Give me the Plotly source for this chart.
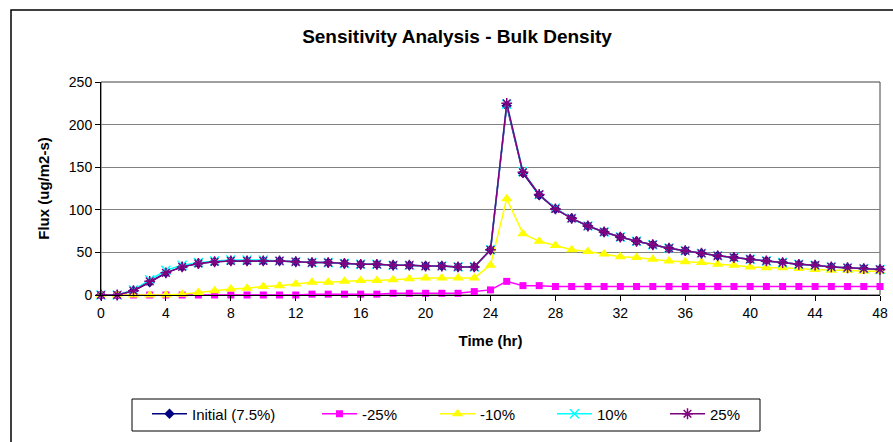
import plotly.graph_objects as go

# 时间（小时）
hours = list(range(0, 49))

# 各情景通量 (ug/m2-s)
flux_initial = [0, 0, 5, 15, 26, 33, 37, 39, 40, 40,
                40, 40, 39, 38, 38, 37, 36, 36, 35, 35,
                34, 34, 33, 33, 53, 222, 143, 117, 101, 90,
                81, 74, 68, 63, 59, 55, 52, 49, 46, 44,
                42, 40, 38, 36, 35, 33, 32, 31, 30]
flux_m25 = [0, 0, 0, 0, 0, 0, 0, 0, 0, 0,
            0, 0, 0, 1, 1, 1, 1, 1, 2, 2,
            2, 2, 2, 4, 6, 16, 11, 11, 10, 10,
            10, 10, 10, 10, 10, 10, 10, 10, 10, 10,
            10, 10, 10, 10, 10, 10, 10, 10, 10]
flux_m10 = [0, 0, 0, 0, 0, 1, 3, 5, 7, 8,
            10, 11, 13, 15, 15, 16, 17, 17, 18, 19,
            20, 20, 20, 20, 35, 113, 72, 63, 58, 53,
            51, 48, 45, 44, 42, 40, 39, 38, 36, 35,
            33, 32, 32, 31, 30, 29, 29, 28, 28]
flux_p10 = [0, 0, 6, 18, 29, 35, 38, 40, 41, 41,
            41, 40, 39, 38, 38, 37, 36, 36, 35, 35,
            34, 34, 33, 33, 53, 224, 145, 118, 102, 90,
            81, 74, 68, 63, 59, 55, 52, 49, 46, 44,
            42, 40, 38, 36, 35, 33, 32, 31, 30]
flux_p25 = [0, 0, 5, 16, 26, 33, 37, 39, 40, 40,
            40, 40, 39, 38, 38, 37, 36, 36, 35, 35,
            34, 34, 33, 33, 53, 225, 144, 118, 101, 90,
            81, 74, 68, 63, 59, 55, 52, 49, 46, 44,
            42, 40, 38, 36, 35, 33, 32, 31, 30]

x_ticks = list(range(0, 49, 4))
y_ticks = [0, 50, 100, 150, 200, 250]

FONT = "Liberation Sans, Arial, sans-serif"

# 绘图区像素位置（body 外边距在页面脚本里清零）
PX_L, PX_R, PX_T, PX_B = 101, 880, 82, 295
W, H = 893, 442


def px(sx):
    return (sx - PX_L) / (PX_R - PX_L)


def py(sy):
    return (PX_B - sy) / (PX_B - PX_T)


# 名称, 数据, 颜色, 符号, 大小, 符号线宽, 图例线起点(px)
series = [
    ("Initial (7.5%)", flux_initial, "#000080", "diamond", 8, 0, 153),
    ("-25%", flux_m25, "#FF00FF", "square", 7, 0, 323),
    ("-10%", flux_m10, "#FFFF00", "triangle-up", 10, 0, 441),
    ("10%", flux_p10, "#00FFFF", "x-thin", 9, 1.5, 558),
    ("25%", flux_p25, "#800080", "asterisk", 9, 1.5, 671),
]

fig = go.Figure()
legends = {}
for i, (name, ys, color, sym, size, mlw, lx) in enumerate(series):
    marker = dict(symbol=sym, size=size, color=color)
    if mlw:
        marker["line"] = dict(color=color, width=mlw)
    key = "legend" if i == 0 else f"legend{i + 1}"
    fig.add_trace(go.Scatter(
        x=hours, y=ys, name=name, mode="lines+markers",
        line=dict(color=color, width=1.5),
        marker=marker, cliponaxis=False, legend=key,
    ))
    legends[key] = dict(
        orientation="h", x=px(lx - 6), xanchor="left",
        y=py(414), yanchor="middle",
        borderwidth=0, bgcolor="rgba(0,0,0,0)",
        font=dict(size=15, family=FONT), itemwidth=35,
    )

fig.update_layout(
    width=W, height=H,
    margin=dict(l=PX_L, r=W - PX_R, t=PX_T, b=H - PX_B),
    paper_bgcolor="white", plot_bgcolor="white",
    font=dict(family=FONT, size=14, color="black"),
    title=dict(text="<b>Sensitivity Analysis - Bulk Density</b>",
               x=457 / W, xref="container", xanchor="center",
               y=1 - 36 / H, yref="container", yanchor="middle",
               font=dict(size=19, family=FONT)),
    showlegend=True,
    xaxis=dict(range=[0, 48], tickvals=x_ticks, showgrid=False,
               showline=True, linecolor="black", linewidth=1,
               ticks="outside", ticklen=5, tickcolor="black",
               zeroline=False, automargin=False,
               title=dict(text="<b>Time (hr)</b>", font=dict(size=15), standoff=15)),
    yaxis=dict(range=[0, 250], tickvals=y_ticks, showgrid=True,
               gridcolor="#808080", gridwidth=1,
               showline=True, linecolor="black", linewidth=1,
               ticks="outside", ticklen=5, tickcolor="black",
               zeroline=False, automargin=False,
               title=dict(text="<b>Flux (ug/m2-s)</b>", font=dict(size=15), standoff=15)),
    shapes=[
        # 绘图区边框（上、右）
        dict(type="rect", xref="paper", yref="paper", x0=0, x1=1, y0=0, y1=1,
             line=dict(color="#404040", width=1), layer="below"),
        # 图表外框
        dict(type="rect", xref="paper", yref="paper",
             x0=px(11), x1=px(905), y0=py(455), y1=py(10),
             line=dict(color="black", width=1.5)),
        # 图例外框
        dict(type="rect", xref="paper", yref="paper",
             x0=px(132), x1=px(760), y0=py(431), y1=py(399),
             line=dict(color="black", width=1), fillcolor="white", layer="below"),
    ],
    **legends,
)

fig.write_html(
    "out.html",
    config={"displayModeBar": False},
    post_script="document.body.style.margin='0';document.body.style.overflow='hidden';",
)
